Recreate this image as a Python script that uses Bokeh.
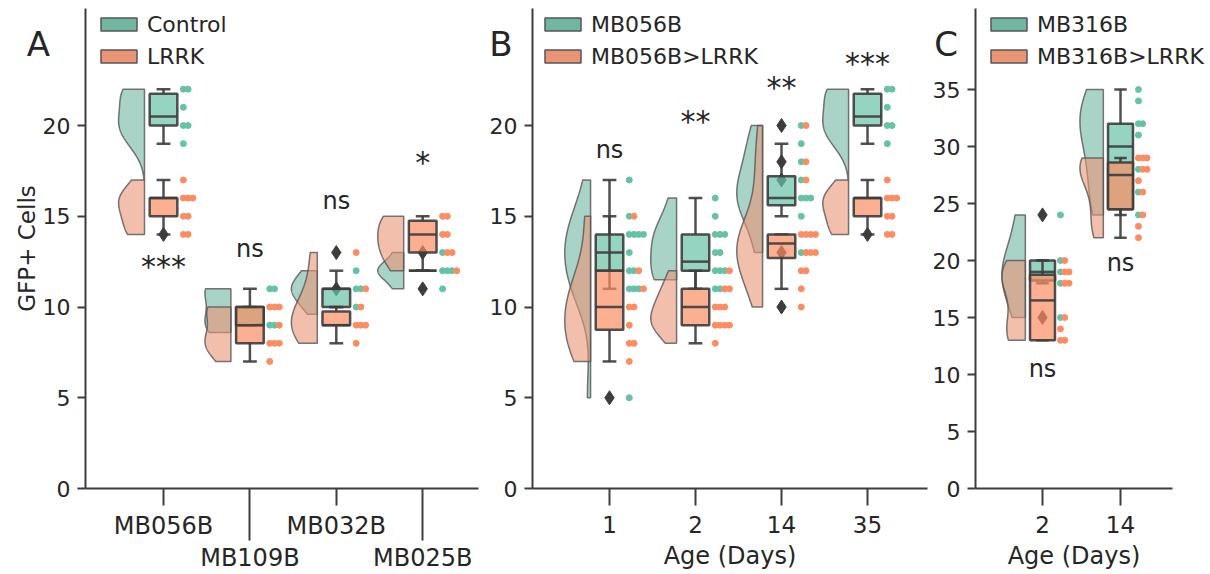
import numpy as np
from collections import Counter
from bokeh.plotting import figure
from bokeh.layouts import row
from bokeh.models import (FixedTicker, Range1d, Legend, LegendItem, ColumnDataSource,
                          LinearAxis, Label)
from bokeh.core.properties import value
from bokeh.embed import file_html
from bokeh.resources import INLINE

FONT = "DejaVu Sans"
GREEN, ORANGE = "#66c2a5", "#fc8d62"
GREEN_D, ORANGE_D = "#71b6a1", "#e99575"
DARK = "#3d3d3d"
TXT = "#262626"

# ---------------- Panel A ----------------
A_groups = ["MB056B", "MB109B", "MB032B", "MB025B"]
A_ctrl_pts = [[22, 22, 21, 20, 20, 19], [11, 11, 9, 9], [12, 11, 11, 10], [13, 12, 12, 12, 11]]
A_lrrk_pts = [[17, 16, 16, 16, 15, 15, 14, 14], [10, 10, 10, 9, 8, 8, 8, 7],
              [13, 11, 10, 9, 9, 9, 8], [15, 15, 14, 14, 13, 13, 12]]
# box stats: q1, median, q3, whisker low, whisker high
A_ctrl_box = [[20, 20.5, 21.75, 19, 22], [9, 9, 10, 9, 11], [10, 11, 11, 10, 12], [12, 12, 12, 12, 12]]
A_lrrk_box = [[15, 16, 16, 14, 17], [8, 9, 10, 7, 10], [9, 9, 9.75, 8, 10], [13, 14, 14.75, 12, 15]]
A_ctrl_out = [[], [], [], [13, 11]]
A_lrrk_out = [[14], [], [11, 13], []]
A_ctrl_vio = [[17, 22], [8.6, 11], [9.6, 12], [11, 13]]
A_lrrk_vio = [[14, 17], [7, 10], [8, 13], [12, 15]]
A_sig = ["***", "ns", "ns", "*"]
A_sig_y = [12.24, 13.17, 15.82, 17.94]
A_legend = ["Control", "LRRK"]

# ---------------- Panel B ----------------
B_groups = ["1", "2", "14", "35"]
B_ctrl_pts = [[17, 15, 14, 14, 14, 14, 13, 12, 12, 11, 11, 11, 5],
              [16, 15, 14, 14, 14, 13, 13, 12, 12, 12, 11, 11],
              [20, 19, 18, 17, 16, 16, 16, 15, 13],
              [22, 22, 21, 20, 20, 19]]
B_lrrk_pts = [[15, 12, 11, 10, 10, 9, 8, 8, 7],
              [12, 11, 11, 10, 10, 10, 9, 9, 9, 9, 8],
              [20, 18, 17, 14, 14, 14, 14, 13, 13, 13, 12, 12, 11, 10],
              [17, 16, 16, 16, 15, 15, 14, 14]]
B_ctrl_box = [[12, 13, 14, 11, 17], [12, 12.5, 14, 11, 16], [15.6, 16, 17.2, 15, 19], [20, 20.5, 21.75, 19, 22]]
B_lrrk_box = [[8.75, 10, 12, 7, 15], [9, 10, 11, 8, 12], [12.7, 13.5, 14, 11, 14], [15, 16, 16, 14, 17]]
B_ctrl_out = [[5], [], [13], []]
B_lrrk_out = [[], [], [17, 18, 20, 10], [14]]
B_ctrl_vio = [[5, 17], [11.5, 16], [13, 20], [17, 22]]
B_lrrk_vio = [[7, 15], [8, 12], [10, 20], [14, 17]]
B_sig = ["ns", "**", "**", "***"]
B_sig_y = [18.63, 20.22, 22.09, 23.39]
B_legend = ["MB056B", "MB056B>LRRK"]

# ---------------- Panel C ----------------
C_groups = ["2", "14"]
C_ctrl_pts = [[24, 20, 19, 18, 15], [35, 34, 32, 32, 31, 28, 26, 24]]
C_lrrk_pts = [[20, 19, 19, 18, 18, 15, 14, 13, 13], [29, 29, 29, 28, 28, 27, 26, 24, 23, 22]]
C_ctrl_box = [[18.25, 19, 20, 18, 20], [24.5, 30, 32, 24, 35]]
C_lrrk_box = [[13, 16.5, 18.75, 13, 20], [24.5, 27.5, 28.6, 22, 29]]
C_ctrl_out = [[24, 15], []]
C_lrrk_out = [[], []]
C_ctrl_vio = [[15, 24], [24, 35]]
C_lrrk_vio = [[13, 20], [22, 29]]
C_sig = ["ns", "ns"]
C_sig_y = [10.44, 19.78]
C_legend = ["MB316B", "MB316B>LRRK"]


def violin(c, pts, lo, hi, edge_off=-0.22, maxw=0.30):
    pts = np.asarray(pts, float)
    n = len(pts)
    bw = pts.std(ddof=1) * n ** (-0.2)
    ys = np.linspace(lo, hi, 150)
    dens = np.exp(-0.5 * ((ys[:, None] - pts[None, :]) / bw) ** 2).sum(axis=1)
    w = dens / dens.max() * maxw
    edge = c + edge_off
    xs = np.concatenate([[edge], edge - w, [edge]])
    yy = np.concatenate([[lo], ys, [hi]])
    return list(xs), list(yy)


def style_axis(ax):
    ax.axis_line_color = DARK
    ax.axis_line_width = 2
    ax.major_tick_line_color = DARK
    ax.major_tick_line_width = 2
    ax.major_tick_in = 0
    ax.minor_tick_line_color = None
    ax.major_label_text_font = FONT
    ax.major_label_text_color = TXT
    ax.axis_label_text_font = FONT
    ax.axis_label_text_color = TXT
    ax.axis_label_text_font_style = "normal"


def panel(groups, ctrl_pts, lrrk_pts, ctrl_box, lrrk_box, ctrl_out, lrrk_out,
          ctrl_vio, lrrk_vio, sig, sig_y, legend_labels, letter, letter_xy,
          width, xr, yr, x_bounds, y_bounds, yticks, xtick_font, legend_x,
          xlabel=None, ylabel=None, staggered=False):
    # the frame fills the whole figure; axes are pinned at fixed data locations
    p = figure(width=width, height=574, x_range=Range1d(*xr), y_range=Range1d(*yr),
               output_backend="svg", toolbar_location=None, min_border=0)
    p.outline_line_color = None
    p.xgrid.visible = False
    p.ygrid.visible = False
    n = len(groups)
    idx = list(range(n))
    series = [(ctrl_pts, ctrl_box, ctrl_out, ctrl_vio, GREEN, GREEN_D),
              (lrrk_pts, lrrk_box, lrrk_out, lrrk_vio, ORANGE, ORANGE_D)]

    # half violins
    for pts_l, box_l, out_l, vio_l, col, cold in series:
        xs_all, ys_all = [], []
        for i in idx:
            xs, ys = violin(i, pts_l[i], vio_l[i][0], vio_l[i][1])
            xs_all.append(xs)
            ys_all.append(ys)
        p.patches(xs_all, ys_all, fill_color=cold, fill_alpha=0.6,
                  line_color="#555555", line_width=1.5, line_alpha=0.8)

    # outliers
    ox, oy = [], []
    for pts_l, box_l, out_l, vio_l, col, cold in series:
        for i in idx:
            for v in out_l[i]:
                ox.append(i)
                oy.append(v)
    p.scatter(ox, oy, marker="diamond", size=14, fill_color=DARK, line_color=DARK)

    # boxes
    hb, hc = 0.16, 0.08
    for pts_l, box_l, out_l, vio_l, col, cold in series:
        q1 = [b[0] for b in box_l]
        md = [b[1] for b in box_l]
        q3 = [b[2] for b in box_l]
        wl = [b[3] for b in box_l]
        wh = [b[4] for b in box_l]
        left = [i - hb for i in idx]
        right = [i + hb for i in idx]
        kw = dict(line_color=DARK, line_width=2.5, line_alpha=0.9)
        p.segment(x0=idx, y0=q3, x1=idx, y1=wh, **kw)
        p.segment(x0=idx, y0=q1, x1=idx, y1=wl, **kw)
        p.segment(x0=[i - hc for i in idx], y0=wh, x1=[i + hc for i in idx], y1=wh, **kw)
        p.segment(x0=[i - hc for i in idx], y0=wl, x1=[i + hc for i in idx], y1=wl, **kw)
        p.quad(left=left, right=right, bottom=q1, top=q3, fill_color=col, fill_alpha=0.7, **kw)
        p.segment(x0=left, y0=md, x1=right, y1=md, **kw)

    # strip points
    for i in idx:
        used = Counter()
        for pts_l, box_l, out_l, vio_l, col, cold in series:
            xs, ys = [], []
            for v in pts_l[i]:
                k = used[v]
                used[v] += 1
                xs.append(i + 0.23 + 0.055 * k)
                ys.append(v)
            p.scatter(xs, ys, size=6, fill_color=col, line_color=col)

    # significance labels
    fs = ["30px" if "*" in s else "24px" for s in sig]
    src = ColumnDataSource(dict(x=idx, y=sig_y, t=sig, fs=fs))
    p.text(x="x", y="y", text="t", source=src, text_font_size="fs", text_align="center",
           text_baseline="alphabetic", text_font=value(FONT), text_color=TXT)

    # legend (patch swatches)
    items = []
    for lab, cold in zip(legend_labels, [GREEN_D, ORANGE_D]):
        sw = ColumnDataSource(dict(a=[np.nan], b=[np.nan]))
        r = p.quad(left="a", right="a", bottom="b", top="b", source=sw,
                   fill_color=cold, line_color="#555555", line_width=1.5)
        items.append(LegendItem(label=lab, renderers=[r]))
    leg = Legend(items=items, location=(legend_x, 505), glyph_width=45, glyph_height=16,
                 label_text_font_size="22px", label_text_font=FONT, label_text_color=TXT,
                 label_standoff=6, label_height=26, spacing=6, padding=0, margin=0,
                 border_line_color=None, background_fill_alpha=0)
    p.add_layout(leg)

    # panel letter
    p.add_layout(Label(x=letter_xy[0], y=letter_xy[1], text=letter, text_font_size="34px",
                       text_font=FONT, text_align="center", text_baseline="alphabetic",
                       text_color=TXT))

    # y axis
    ya = p.yaxis[0]
    style_axis(ya)
    ya.fixed_location = x_bounds[0]
    ya.bounds = y_bounds
    ya.ticker = FixedTicker(ticks=yticks, minor_ticks=[])
    ya.major_tick_out = 8
    ya.major_label_standoff = 7
    ya.major_label_text_font_size = "22px"
    if ylabel:
        ya.axis_label = ylabel
        ya.axis_label_text_font_size = "23px"
        ya.axis_label_standoff = 0

    # x axis
    xa = p.xaxis[0]
    style_axis(xa)
    xa.fixed_location = 0
    xa.bounds = x_bounds
    xa.major_tick_out = 17
    xa.major_label_text_font_size = xtick_font
    if staggered:
        xa.ticker = FixedTicker(ticks=idx[0::2], minor_ticks=[])
        xa.major_label_overrides = {i: groups[i] for i in idx[0::2]}
        xa.major_label_standoff = 6
        xb = LinearAxis(fixed_location=0, ticker=FixedTicker(ticks=idx[1::2], minor_ticks=[]),
                        major_label_overrides={i: groups[i] for i in idx[1::2]})
        style_axis(xb)
        xb.axis_line_color = None
        xb.major_tick_out = 52
        xb.major_label_standoff = 3
        xb.major_label_text_font_size = xtick_font
        p.add_layout(xb, "below")
    else:
        xa.ticker = FixedTicker(ticks=idx, minor_ticks=[])
        xa.major_label_overrides = {i: g for i, g in enumerate(groups)}
        xa.major_label_standoff = 10
    if xlabel:
        xa.axis_label = xlabel
        xa.axis_label_text_font_size = "24px"
        xa.axis_label_standoff = 6
    return p


# pixel geometry of each panel: A/B 18.15 px per y unit, C 11.4 px per y unit
pA = panel(A_groups, A_ctrl_pts, A_lrrk_pts, A_ctrl_box, A_lrrk_box, A_ctrl_out, A_lrrk_out,
           A_ctrl_vio, A_lrrk_vio, A_sig, A_sig_y, A_legend, "A", (-1.447, 24.47),
           484, (-163 / 86.4, (484 - 163) / 86.4), (-86 / 18.15, 488 / 18.15),
           (-78 / 86.4, 315 / 86.4), (0, 480 / 18.15), [0, 5, 10, 15, 20], "24px", 96,
           ylabel="GFP+ Cells", staggered=True)
pB = panel(B_groups, B_ctrl_pts, B_lrrk_pts, B_ctrl_box, B_lrrk_box, B_ctrl_out, B_lrrk_out,
           B_ctrl_vio, B_lrrk_vio, B_sig, B_sig_y, B_legend, "B", (-1.262, 24.47),
           447, (-125 / 86, 322 / 86), (-86 / 18.15, 488 / 18.15),
           (-77 / 86, 318 / 86), (0, 480 / 18.15), [0, 5, 10, 15, 20], "23px", 56,
           xlabel="Age (Days)")
pC = panel(C_groups, C_ctrl_pts, C_lrrk_pts, C_ctrl_box, C_lrrk_box, C_ctrl_out, C_lrrk_out,
           C_ctrl_vio, C_lrrk_vio, C_sig, C_sig_y, C_legend, "C", (-1.237, 38.95),
           275, (-111 / 78, 164 / 78), (-86 / 11.4, 488 / 11.4),
           (-67 / 78, 130 / 78), (0, 480 / 11.4), [0, 5, 10, 15, 20, 25, 30, 35], "23px", 55,
           xlabel="Age (Days)")

layout = row(pA, pB, pC)
open("out.html", "w").write(file_html(layout, INLINE))
